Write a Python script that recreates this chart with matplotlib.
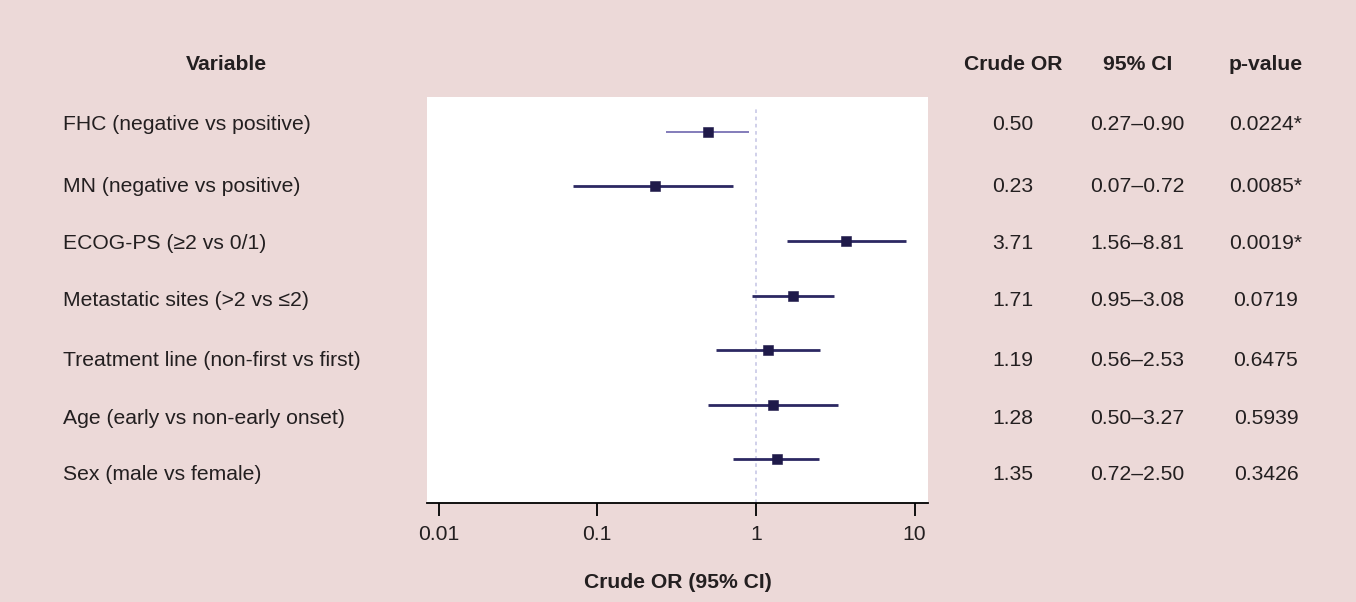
import numpy as np
import matplotlib
matplotlib.use('Agg')
from matplotlib import pyplot as plt

# =============================================================================
# DATA
# =============================================================================
variables = ['FHC (negative vs positive)',
             'MN (negative vs positive)',
             'ECOG-PS (\u22652 vs 0/1)',
             'Metastatic sites (>2 vs \u22642)',
             'Treatment line (non-first vs first)',
             'Age (early vs non-early onset)',
             'Sex (male vs female)']
crude_or = [0.50, 0.23, 3.71, 1.71, 1.19, 1.28, 1.35]
ci_low = [0.27, 0.07, 1.56, 0.95, 0.56, 0.50, 0.72]
ci_high = [0.90, 0.72, 8.81, 3.08, 2.53, 3.27, 2.50]
p_values = ['0.0224*', '0.0085*', '0.0019*', '0.0719', '0.6475', '0.5939', '0.3426']
xticks = [0.01, 0.1, 1, 10]
xtick_labels = ['0.01', '0.1', '1', '10']

# =============================================================================
# STYLE / LAYOUT
# =============================================================================
plt.rcParams['font.family'] = ['Liberation Sans', 'DejaVu Sans']
bg = '#ecd9d8'
txt = '#231f20'
fs = 15.2

W, H = 1356, 602
# the table rows in the source sit on a slightly wider pitch than the plot rows
text_rows_px = [123, 184, 241, 299, 358, 416, 473]
cap_half = 7.5  # half the cap height in pixels, to put text on a baseline

fig = plt.figure(figsize=(W/100, H/100), dpi=100, facecolor=bg)
ax = fig.add_axes([427/W, 1-503/H, 501/W, 406/H])
ax.set_facecolor('white')

rows = np.arange(len(variables))
ax.axvline(1, ymin=0, ymax=0.975, color='#cdcde8', lw=1.3, ls=(0, (2, 2)), zorder=1)

# CI lines (first row drawn lighter and thinner, as in the source)
for i in rows:
    if i == 0:
        col, lw = '#7a72b4', 1.3
    else:
        col, lw = '#2c2862', 2.0
    ax.plot([ci_low[i], ci_high[i]], [i, i], color=col, lw=lw, solid_capstyle='butt', zorder=2)
ax.plot(crude_or, rows, 's', color='#1f1a4a', ms=7.0, mew=0.4, zorder=3)

ax.set_xscale('log')
ax.set_xlim(10**-2.073, 10**1.084)
ax.set_ylim(6.807, -0.642)
ax.set_xticks(xticks)
ax.set_xticklabels(xtick_labels)
ax.minorticks_off()
ax.set_yticks([])
for s in ['top', 'left', 'right']:
    ax.spines[s].set_visible(False)
ax.spines['bottom'].set_color('black')
ax.spines['bottom'].set_linewidth(1.3)
ax.tick_params(axis='x', direction='out', length=9, width=1.3, color='black',
               labelsize=fs, labelcolor=txt, pad=6.5)
ax.set_xlabel('Crude OR (95% CI)', fontsize=fs, fontweight='bold', color=txt, labelpad=21)

# table columns
for i in rows:
    yb = 1 - (text_rows_px[i] + cap_half)/H
    fig.text(63/W, yb, variables[i], ha='left', va='baseline', fontsize=fs, color=txt)
    fig.text(1013/W, yb, '{0:.2f}'.format(crude_or[i]), ha='center', va='baseline',
             fontsize=fs, color=txt)
    fig.text(1137.5/W, yb, '{0:.2f}\u2013{1:.2f}'.format(ci_low[i], ci_high[i]),
             ha='center', va='baseline', fontsize=fs, color=txt)
    fig.text(1266/W, yb, p_values[i], ha='center', va='baseline', fontsize=fs, color=txt)

hy = 1 - (62 + cap_half)/H
fig.text(226/W, hy, 'Variable', ha='center', va='baseline', fontsize=fs, fontweight='bold', color=txt)
fig.text(1013/W, hy, 'Crude OR', ha='center', va='baseline', fontsize=fs, fontweight='bold', color=txt)
fig.text(1137.5/W, hy, '95% CI', ha='center', va='baseline', fontsize=fs, fontweight='bold', color=txt)
fig.text(1266/W, hy, 'p-value', ha='center', va='baseline', fontsize=fs, fontweight='bold', color=txt)

fig.savefig('out.png', dpi=100, facecolor=bg)
